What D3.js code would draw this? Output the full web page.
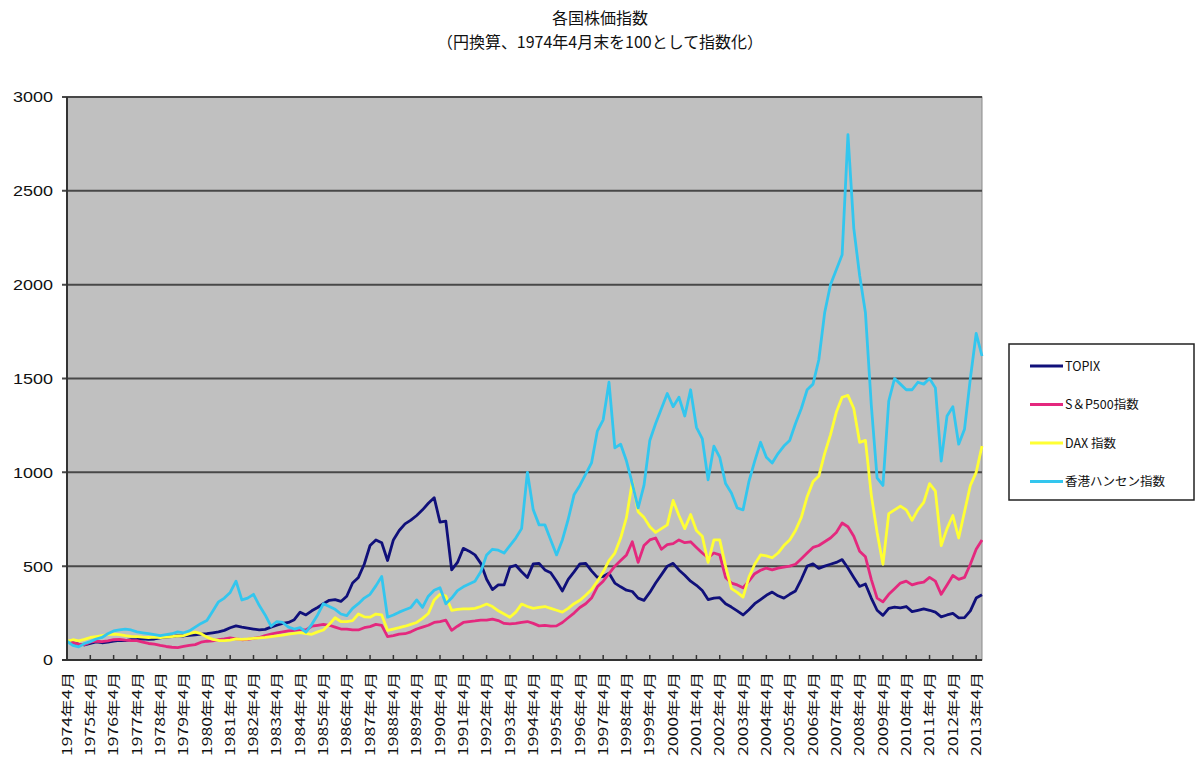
<!DOCTYPE html>
<html>
<head>
<meta charset="utf-8">
<script src="https://cdn.jsdelivr.net/npm/d3@7"></script>
<style>
  body { margin: 0; background: #fff; }
  text { fill: #111; }
</style>
</head>
<body>
<div id="chart"></div>
<script>
// year labels on the category axis (one per April)
const years = d3.range(1974, 2014);
const yTicks = [0, 500, 1000, 1500, 2000, 2500, 3000];

// quarterly readings, Apr 1974 .. Jul 2013 (4 per year, last year 2)
const topix = [
  100, 92, 85, 80,   88, 96, 92, 95,   100, 104, 103, 108,   110, 113, 110, 112,
  118, 122, 125, 130,   128, 131, 134, 138,   140, 145, 150, 158,   172, 182, 175, 170,
  165, 160, 163, 175,   185, 195, 200, 215,   255, 240, 262, 280,   300, 318, 322, 312,
  340, 410, 440, 510,   610, 640, 625, 530,   640, 690, 725, 745,   770, 800, 835, 865,
  735, 740, 480, 520,   595, 580, 560, 515,   430, 375, 400, 400,   495, 505, 470, 440,
  512, 515, 480, 465,   420, 368, 430, 470,   512, 515, 475, 440,   445, 462, 410, 390,
  372, 365, 330, 318,   360, 410, 455, 500,   515, 480, 452, 420,   398, 370, 322, 330,
  332, 300, 282, 262,   240, 268, 300, 322,   345, 362, 342, 330,   350, 368, 430, 500,
  512, 488, 500, 510,   520, 535, 490, 440,   392, 405, 330, 265,   238, 275, 282, 278,
  285, 258, 265, 272,   265, 255, 230, 240,   248, 224, 226, 262,   330, 348
];
const sp500 = [
  100, 92, 85, 82,   95, 100, 98, 102,   108, 110, 106, 104,   103, 95, 88, 85,
  78, 72, 68, 66,   72, 78, 82, 95,   100, 102, 108, 112,   118, 112, 108, 110,
  115, 120, 130, 138,   145, 150, 155, 158,   160, 160, 180, 185,   190, 185, 175, 165,
  165, 160, 160, 172,   178, 190, 185, 125,   130, 138, 140, 150,   165, 175, 185, 200,
  205, 212, 158, 180,   200, 205, 208, 212,   212, 218, 210, 195,   192, 195, 200, 205,
  195, 182, 185, 180,   182, 200, 225, 250,   280, 300, 330, 390,   420, 460, 500, 530,
  560, 630, 520, 610,   640, 650, 590, 615,   620, 640, 625, 630,   600, 570, 545, 570,
  560, 440, 410, 400,   385, 420, 460, 478,   490, 480, 490, 495,   500, 510, 540, 570,
  600, 610, 630, 650,   680, 730, 710, 660,   580, 550, 430, 330,   310, 350, 380, 410,
  420, 400, 410, 415,   440, 420, 350, 400,   450, 430, 440, 510,   590, 640
];
const dax = [
  100, 108, 102, 110,   120, 125, 130, 135,   138, 135, 130, 126,   125, 122, 120, 122,
  120, 122, 125, 128,   130, 140, 148, 140,   122, 110, 104, 103,   106, 112, 110, 112,
  115, 118, 121, 125,   128, 133, 138, 142,   146, 140, 137, 150,   160, 190, 225, 205,
  205, 210, 245, 230,   228, 245, 240, 158,   165, 172, 180, 190,   200, 222, 248, 320,
  350, 340, 265, 270,   272, 272, 275, 285,   298, 285, 262, 245,   228, 255, 298, 285,
  275, 280, 285, 275,   265, 255, 275, 300,   318, 345, 375, 420,   470, 530, 570, 650,
  760, 950, 790, 760,   710, 680, 700, 720,   850, 770, 700, 775,   690, 660, 520, 640,
  640, 500, 380, 360,   335, 440, 510, 560,   555, 545, 570, 610,   640, 690, 760, 870,
  950, 980, 1100, 1200,   1320, 1400, 1410, 1340,   1160, 1170, 880, 680,   510, 780, 800, 820,
  800, 745, 800, 840,   940, 900, 610, 700,   770, 650, 790, 930,   1000, 1140
];
const hangseng = [
  100, 78, 70, 88,   98, 112, 120, 140,   155, 160, 165, 160,   150, 145, 140, 135,
  130, 135, 140, 150,   145, 155, 175, 195,   210, 260, 310, 330,   360, 420, 320, 330,
  350, 290, 240, 180,   205, 200, 175, 165,   172, 148, 190, 240,   300, 285, 270, 245,
  236, 275, 300, 330,   350, 395, 445, 228,   240, 255, 268, 280,   320, 280, 340, 372,
  385, 300, 330, 370,   390, 405, 420, 470,   560, 590, 585, 570,   610, 650, 700, 1000,
  800, 720, 720, 640,   560, 640, 750, 880,   930, 990, 1050, 1220,   1280, 1480, 1130, 1150,
  1060, 940, 810, 930,   1170, 1260, 1340, 1420,   1350, 1400, 1300, 1440,   1240, 1180, 960, 1140,
  1080, 940, 890, 810,   800, 950, 1060, 1160,   1080, 1050, 1100, 1140,   1170, 1260, 1340, 1440,
  1470, 1600, 1850, 2000,   2080, 2160, 2800, 2300,   2050, 1850, 1360, 970,   930, 1380, 1500, 1470,
  1440, 1440, 1480, 1470,   1500, 1450, 1060, 1300,   1350, 1150, 1230, 1500,   1740, 1620
];

const seriesNames = ["TOPIX", "S＆P500指数", "DAX 指数", "香港ハンセン指数"];
const seriesColors = ["#10107a", "#e4287e", "#ffff33", "#33c6ee"];
const seriesData = [topix, sp500, dax, hangseng];

const width = 1200, height = 784;
const plot = { left: 67, right: 982, top: 97, bottom: 660 };

const svg = d3.select("#chart")
  .append("svg")
    .attr("width", width)
    .attr("height", height)
    .style("font-family", "'Liberation Sans', Arial, 'Noto Sans CJK JP', sans-serif");

svg.append("rect").attr("width", width).attr("height", height).attr("fill", "#fff");

// month index 0 = April 1974, last reading July 2013
const x = d3.scaleLinear().domain([0, 471]).range([plot.left, plot.right]);
const y = d3.scaleLinear().domain([0, 3000]).range([plot.bottom, plot.top]);

// plot background
svg.append("rect")
  .attr("x", plot.left)
  .attr("y", plot.top)
  .attr("width", plot.right - plot.left)
  .attr("height", plot.bottom - plot.top)
  .attr("fill", "#c0c0c0")
  .attr("stroke", "#8a8a8a")
  .attr("stroke-width", 1);

// horizontal grid lines
svg.append("g")
  .selectAll("line")
  .data(yTicks.filter(d => d > 0))
  .enter().append("line")
    .attr("x1", plot.left - 5)
    .attr("x2", plot.right)
    .attr("y1", d => y(d))
    .attr("y2", d => y(d))
    .attr("stroke", "#484848")
    .attr("stroke-width", 2);

// y labels
svg.append("g")
  .selectAll("text")
  .data(yTicks)
  .enter().append("text")
    .attr("x", 53)
    .attr("y", d => y(d))
    .attr("dy", "0.36em")
    .attr("text-anchor", "end")
    .style("font-size", "15px")
    .attr("textLength", d => String(d).length * 10)
    .attr("lengthAdjust", "spacingAndGlyphs")
    .text(d => d);

// series lines
const line = d3.line()
  .x((d, i) => x(i * 3))
  .y(d => y(d));

svg.append("g")
  .selectAll("path")
  .data(seriesData)
  .enter().append("path")
    .attr("d", line)
    .attr("fill", "none")
    .attr("stroke", (d, i) => seriesColors[i])
    .attr("stroke-width", 2.8)
    .attr("stroke-linejoin", "round");

// axes lines
svg.append("line")
  .attr("x1", plot.left).attr("x2", plot.left)
  .attr("y1", plot.top).attr("y2", plot.bottom)
  .attr("stroke", "#333").attr("stroke-width", 2);
svg.append("line")
  .attr("x1", plot.left - 5).attr("x2", plot.right)
  .attr("y1", plot.bottom).attr("y2", plot.bottom)
  .attr("stroke", "#333").attr("stroke-width", 2);

// x ticks (inside) and rotated labels
svg.append("g")
  .selectAll("line")
  .data(years.slice(1))
  .enter().append("line")
    .attr("x1", d => x((d - 1974) * 12))
    .attr("x2", d => x((d - 1974) * 12))
    .attr("y1", plot.bottom)
    .attr("y2", plot.bottom - 5)
    .attr("stroke", "#333")
    .attr("stroke-width", 1.5);

svg.append("g")
  .selectAll("text")
  .data(years)
  .enter().append("text")
    .attr("transform", d => "translate(" + x((d - 1974) * 12) + "," + 672 + ") rotate(-90)")
    .attr("text-anchor", "end")
    .attr("dy", "0.36em")
    .style("font-size", "13px")
    .style("font-family", "'Noto Sans CJK JP', sans-serif")
    .attr("textLength", 84)
    .attr("lengthAdjust", "spacingAndGlyphs")
    .text(d => d + "年4月");

// title
svg.append("text")
  .attr("x", 600).attr("y", 24)
  .attr("text-anchor", "middle")
  .style("font-size", "16px")
  .style("font-family", "'Noto Sans CJK JP', sans-serif")
  .text("各国株価指数");
svg.append("text")
  .attr("x", 600).attr("y", 48)
  .attr("text-anchor", "middle")
  .style("font-size", "16px")
  .style("font-family", "'Noto Sans CJK JP', sans-serif")
  .attr("textLength", 326)
  .attr("lengthAdjust", "spacingAndGlyphs")
  .text("（円換算、1974年4月末を100として指数化）");

// legend
const legend = svg.append("g").attr("transform", "translate(1009,344)");
legend.append("rect")
  .attr("width", 185).attr("height", 156)
  .attr("fill", "#fff")
  .attr("stroke", "#222")
  .attr("stroke-width", 1.5);

const item = legend.selectAll(".item")
  .data(seriesNames)
  .enter().append("g")
    .attr("class", "item")
    .attr("transform", (d, i) => "translate(0," + (22 + i * 38.5) + ")");

item.append("line")
  .attr("x1", 21).attr("x2", 54)
  .attr("stroke", (d, i) => seriesColors[i])
  .attr("stroke-width", 3);

item.append("text")
  .attr("x", 56)
  .attr("dy", "0.36em")
  .style("font-size", "12.5px")
  .style("font-family", "'Noto Sans CJK JP', sans-serif")
  .text(d => d);
</script>
</body>
</html>
